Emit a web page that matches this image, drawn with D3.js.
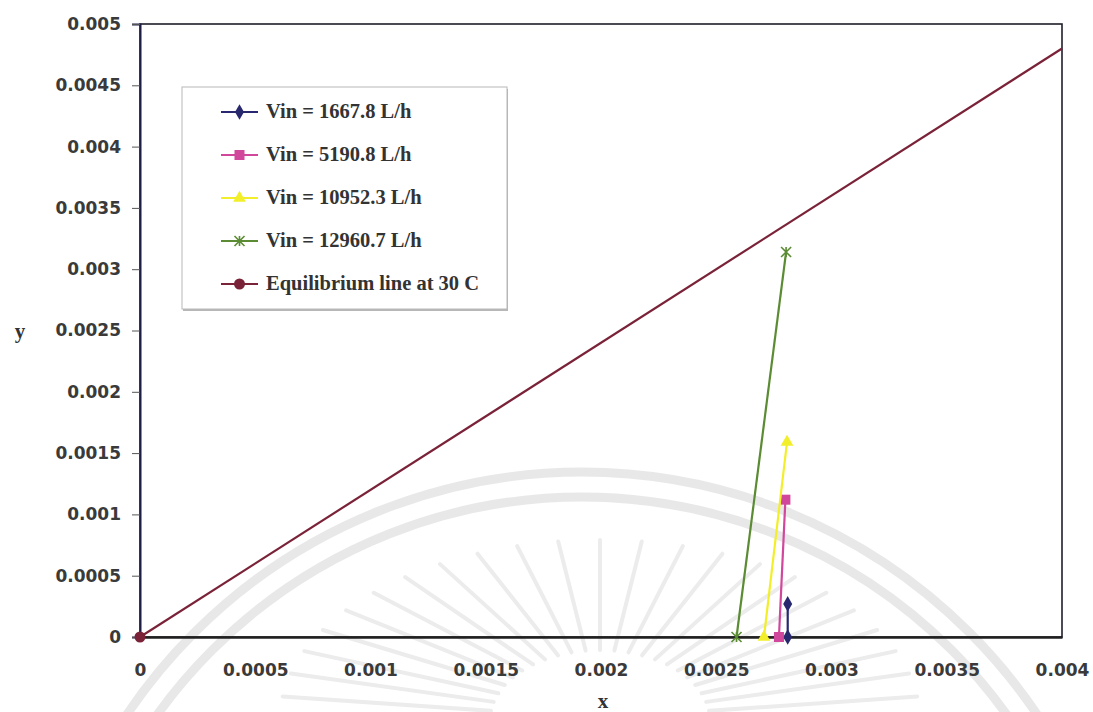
<!DOCTYPE html>
<html>
<head>
<meta charset="utf-8">
<script src="https://cdn.jsdelivr.net/npm/d3@7"></script>
<style>
  html, body { margin: 0; padding: 0; background: #fff; }
  svg { display: block; }
</style>
</head>
<body>
<svg id="chart" width="1093" height="712"></svg>
<script>
// Operating lines (x, y) for each inlet flow rate, plus the equilibrium line
const seriesNames = [
  "Vin = 1667.8 L/h",
  "Vin = 5190.8 L/h",
  "Vin = 10952.3 L/h",
  "Vin = 12960.7 L/h",
  "Equilibrium line at 30 C"
];
const vin1667X = [0.00281, 0.00281];
const vin1667Y = [0, 0.00027];
const vin5190X = [0.002772, 0.0028];
const vin5190Y = [0, 0.00112];
const vin10952X = [0.002707, 0.002807];
const vin10952Y = [0, 0.00159];
const vin12960X = [0.002588, 0.002803];
const vin12960Y = [0, 0.00314];
const equilibriumX = [0, 0.004];
const equilibriumY = [0, 0.0048];

const xTicks = [0, 0.0005, 0.001, 0.0015, 0.002, 0.0025, 0.003, 0.0035, 0.004];
const xTickLabels = ["0", "0.0005", "0.001", "0.0015", "0.002", "0.0025", "0.003", "0.0035", "0.004"];
const yTicks = [0, 0.0005, 0.001, 0.0015, 0.002, 0.0025, 0.003, 0.0035, 0.004, 0.0045, 0.005];
const yTickLabels = ["0", "0.0005", "0.001", "0.0015", "0.002", "0.0025", "0.003", "0.0035", "0.004", "0.0045", "0.005"];

const seriesX = [vin1667X, vin5190X, vin10952X, vin12960X, equilibriumX];
const seriesY = [vin1667Y, vin5190Y, vin10952Y, vin12960Y, equilibriumY];
const colors = ["#27286e", "#d0479c", "#f2ef2a", "#5b8c33", "#7a2238"];
const markers = ["diamond", "square", "triangle", "star", "circle"];

const svg = d3.select("#chart");
const plot = { left: 140, right: 1062, top: 24, bottom: 637 };

const x = d3.scaleLinear().domain([0, 0.004]).range([plot.left, plot.right]);
const y = d3.scaleLinear().domain([0, 0.005]).range([plot.bottom, plot.top]);

// Faint background seal
const seal = svg.append("g").attr("fill", "none").attr("stroke", "#dedede");
[548, 523].forEach(r => {
  seal.append("circle").attr("cx", 582).attr("cy", 1020).attr("r", r)
    .attr("stroke-width", 9).attr("opacity", 0.7);
});
for (let i = 0; i <= 24; i++) {
  const a = Math.PI + (i / 24) * Math.PI;
  const rx0 = 110, ry0 = 70, rx1 = 320, ry1 = 180;
  seal.append("line")
    .attr("x1", 600 + rx0 * Math.cos(a)).attr("y1", 720 + ry0 * Math.sin(a))
    .attr("x2", 600 + rx1 * Math.cos(a)).attr("y2", 720 + ry1 * Math.sin(a))
    .attr("stroke-width", 4).attr("stroke", "#ececec").attr("stroke-linecap", "round");
}

// Plot frame
svg.append("rect")
  .attr("x", plot.left).attr("y", plot.top)
  .attr("width", plot.right - plot.left).attr("height", plot.bottom - plot.top)
  .attr("fill", "none").attr("stroke", "#1e1e2a").attr("stroke-width", 1.6);

// Axes
const yAxis = d3.axisLeft(y).tickValues(yTicks)
  .tickFormat((d, i) => yTickLabels[i]).tickSize(8).tickPadding(11);
const gy = svg.append("g").attr("transform", `translate(${plot.left},0)`).call(yAxis);
gy.select(".domain").attr("stroke", "#1d1d45").attr("stroke-width", 2);
gy.selectAll(".tick line").attr("stroke", "#555").attr("stroke-width", 1);

const xAxis = d3.axisBottom(x).tickValues(xTicks)
  .tickFormat((d, i) => xTickLabels[i]).tickSize(0).tickPadding(27);
const gx = svg.append("g").attr("transform", `translate(0,${plot.bottom})`).call(xAxis);
gx.select(".domain").attr("stroke", "#202020").attr("stroke-width", 2.4);

svg.selectAll(".tick text")
  .attr("font-family", "'DejaVu Sans', sans-serif")
  .attr("font-weight", "bold")
  .attr("font-size", 17)
  .attr("fill", "#3a3a3a");

// Axis titles
svg.append("text").attr("x", 20).attr("y", 338).attr("text-anchor", "middle")
  .attr("font-family", "'Liberation Serif', serif").attr("font-weight", "bold")
  .attr("font-size", 21).attr("fill", "#333").text("y");
svg.append("text").attr("x", 603).attr("y", 708).attr("text-anchor", "middle")
  .attr("font-family", "'Liberation Serif', serif").attr("font-weight", "bold")
  .attr("font-size", 21).attr("fill", "#333").text("x");

// Marker drawing
function drawMarker(g, type, cx, cy, color) {
  if (type === "diamond") {
    g.append("path").attr("d", d3.symbol(d3.symbolDiamond, 70)())
      .attr("transform", `translate(${cx},${cy})`).attr("fill", color);
  } else if (type === "square") {
    g.append("rect").attr("x", cx - 5).attr("y", cy - 5).attr("width", 10).attr("height", 10)
      .attr("fill", color);
  } else if (type === "triangle") {
    g.append("path").attr("d", d3.symbol(d3.symbolTriangle, 70)())
      .attr("transform", `translate(${cx},${cy})`).attr("fill", color);
  } else if (type === "star") {
    g.append("path")
      .attr("d", `M${cx - 5},${cy - 5}L${cx + 5},${cy + 5}M${cx + 5},${cy - 5}L${cx - 5},${cy + 5}M${cx},${cy - 5}L${cx},${cy + 5}`)
      .attr("stroke", color).attr("stroke-width", 1.6).attr("fill", "none");
  } else {
    g.append("circle").attr("cx", cx).attr("cy", cy).attr("r", 5.5).attr("fill", color);
  }
}

// Markers are clipped to the plot area, widened so the origin marker stays whole
svg.append("clipPath").attr("id", "markerClip")
  .append("rect").attr("x", 0).attr("y", plot.top).attr("width", plot.right - 4).attr("height", 712 - plot.top);

// Series lines and markers
const lineGen = d3.line().x(d => x(d[0])).y(d => y(d[1]));
seriesX.forEach((xs, s) => {
  const pts = xs.map((v, i) => [v, seriesY[s][i]]);
  const g = svg.append("g");
  g.append("path").datum(pts).attr("d", lineGen)
    .attr("fill", "none").attr("stroke", colors[s]).attr("stroke-width", 2.2);
  const mg = g.append("g").attr("clip-path", "url(#markerClip)");
  pts.forEach(p => {
    if (x(p[0]) < plot.right - 4) drawMarker(mg, markers[s], x(p[0]), y(p[1]), colors[s]);
  });
});

// Legend
const legend = svg.append("g");
legend.append("rect").attr("x", 183).attr("y", 89).attr("width", 325).attr("height", 222)
  .attr("fill", "#999").attr("opacity", 0.7);
legend.append("rect").attr("x", 182).attr("y", 87).attr("width", 325).attr("height", 222)
  .attr("fill", "#fff").attr("stroke", "#b8b8b8").attr("stroke-width", 1);
seriesNames.forEach((name, i) => {
  const ly = 112 + i * 43;
  const row = legend.append("g");
  row.append("line").attr("x1", 221).attr("x2", 258).attr("y1", ly).attr("y2", ly)
    .attr("stroke", colors[i]).attr("stroke-width", 2.2);
  drawMarker(row, markers[i], 239.5, ly, colors[i]);
  row.append("text").attr("x", 266).attr("y", ly + 6)
    .attr("font-family", "'Liberation Serif', serif").attr("font-weight", "bold")
    .attr("font-size", 20.5).attr("fill", "#333").text(name);
});
</script>
</body>
</html>
